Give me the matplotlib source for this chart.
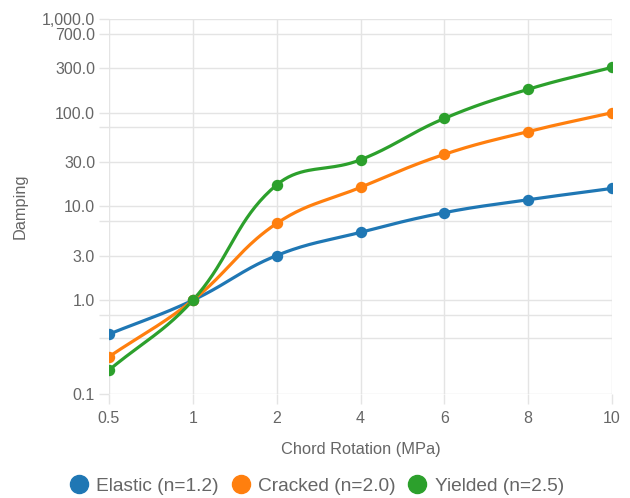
import numpy as np
import matplotlib
matplotlib.use('Agg')
import matplotlib.pyplot as plt
from matplotlib.lines import Line2D

categories = ['0.5', '1', '2', '4', '6', '8', '10']
elastic = [0.435, 1.0, 3.0, 5.3, 8.6, 11.8, 15.6]
cracked = [0.25, 1.0, 6.6, 16.0, 36.0, 63.0, 100.0]
yielded = [0.18, 1.0, 17.0, 31.5, 87.0, 178.0, 305.0]
series = [('Elastic (n=1.2)', elastic, '#1f77b4'),
          ('Cracked (n=2.0)', cracked, '#ff7f0e'),
          ('Yielded (n=2.5)', yielded, '#2ca02c')]

grid_vals = [0.1, 0.4, 0.7, 1, 3, 7, 10, 30, 70, 100, 300, 700, 1000]
label_vals = [0.1, 1, 3, 10, 30, 100, 300, 700, 1000]
label_txt = ['0.1', '1.0', '3.0', '10.0', '30.0', '100.0', '300.0', '700.0', '1,000.0']

plt.rcParams['font.family'] = ['Liberation Sans', 'DejaVu Sans']
grey = '#666666'
gridc = '#e4e4e4'

W, H = 630, 498
fig = plt.figure(figsize=(W / 100, H / 100), dpi=100)
ax = fig.add_axes([109 / W, 1 - 394 / H, (612 - 109) / W, (394 - 19) / H])

# pixel scale used for the chart.js style spline
px_x = 83.8
px_y = 94.0


def spline(xs, ys, t=0.4, steps=40):
    # chart.js tension spline, computed in screen-like units
    p = np.column_stack([np.asarray(xs) * px_x, np.log10(ys) * px_y])
    n = len(p)
    cps = []
    for i in range(n):
        prev = p[max(i - 1, 0)]
        cur = p[i]
        nxt = p[min(i + 1, n - 1)]
        d01 = np.hypot(*(cur - prev))
        d12 = np.hypot(*(nxt - cur))
        tot = d01 + d12
        s01 = d01 / tot if tot else 0
        s12 = d12 / tot if tot else 0
        cps.append((cur - t * s01 * (nxt - prev), cur + t * s12 * (nxt - prev)))
    out = [p[0]]
    u = np.linspace(0, 1, steps)[1:, None]
    for i in range(n - 1):
        a, b = p[i], cps[i][1]
        c, d = cps[i + 1][0], p[i + 1]
        seg = (1 - u) ** 3 * a + 3 * (1 - u) ** 2 * u * b + 3 * (1 - u) * u ** 2 * c + u ** 3 * d
        out.extend(seg)
    out = np.array(out)
    return out[:, 0] / px_x, 10 ** (out[:, 1] / px_y)


xi = np.arange(len(categories))
handles = []
for name, vals, col in series:
    sx, sy = spline(xi, vals)
    ax.plot(sx, sy, color=col, lw=2.3, solid_capstyle='round', zorder=3)
    ax.plot(xi, vals, 'o', color=col, ms=7.2, zorder=4)
    handles.append(Line2D([], [], marker='o', ls='none', color=col, ms=13, label=name))

ax.set_yscale('log')
ax.set_xlim(0, len(categories) - 1)
ax.set_ylim(0.1, 1000)
ax.set_xticks(xi)
ax.set_xticklabels(categories)
ax.set_yticks(grid_vals)
ax.set_yticklabels([label_txt[label_vals.index(v)] if v in label_vals else '' for v in grid_vals])
ax.yaxis.set_minor_locator(matplotlib.ticker.NullLocator())
ax.grid(True, color=gridc, lw=1)
for s in ax.spines.values():
    s.set_visible(False)
ax.tick_params(axis='both', colors=gridc, labelcolor=grey, labelsize=11.5, length=7, width=1)
ax.tick_params(axis='y', pad=3)
ax.tick_params(axis='x', pad=5)

ax.set_xlabel('Chord Rotation (MPa)', color=grey, fontsize=11.8, labelpad=12)
ax.set_ylabel('Damping', color=grey, fontsize=11.8, labelpad=10)

fig.legend(handles=handles, loc='center', bbox_to_anchor=(316.5 / W, 1 - 486 / H), ncol=3,
           frameon=False, fontsize=13.8, labelcolor=grey, handletextpad=0.4,
           columnspacing=0.65, handlelength=1.0, borderpad=0)

fig.savefig('out.png', dpi=100)
